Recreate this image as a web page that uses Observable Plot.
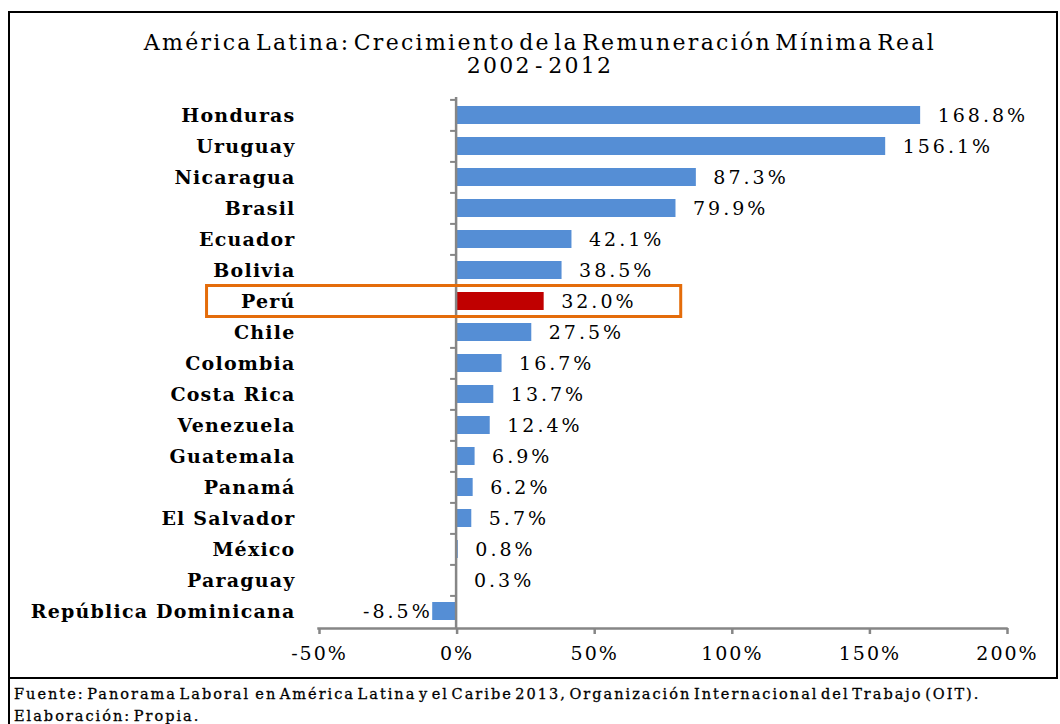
<!DOCTYPE html>
<html>
<head>
<meta charset="utf-8">
<script src="https://cdn.jsdelivr.net/npm/d3@7"></script>
<script src="https://cdn.jsdelivr.net/npm/@observablehq/plot@0.6"></script>
<style>
  body { margin: 0; background: #fff; width: 1060px; height: 724px; overflow: hidden; position: relative; font-family: "DejaVu Serif", serif; }
  #frame { position: absolute; left: 8px; top: 11px; width: 1046px; height: 664px; border: 2px solid #000; }
  #footline { position: absolute; left: 8px; top: 679px; width: 2px; height: 45px; background: #000; }
  #title { position: absolute; left: 0; top: 31px; width: 1080px; text-align: center; font-size: 22px; line-height: 23px; color: #000; letter-spacing: 2.3px; word-spacing: -6px; }
  #chart { position: absolute; left: 0; top: 80px; }
  #footer { position: absolute; left: 14px; top: 683px; font-size: 14.5px; line-height: 22px; color: #000; letter-spacing: 2px; word-spacing: -4px; -webkit-text-stroke: 0.3px #000; }
  #chart g[aria-label="text"] text { letter-spacing: 3px; }
  #chart g[aria-label="x-axis tick label"] text { letter-spacing: 2px; }
  #chart g[aria-label="y-axis tick label"] text { letter-spacing: 1.2px; }
</style>
</head>
<body>
<div id="frame"></div>
<div id="footline"></div>
<div id="title">América Latina: Crecimiento de la Remuneración Mínima Real<br>2002 - 2012</div>
<div id="chart"></div>
<div id="footer">Fuente: Panorama Laboral&nbsp; en América Latina y el Caribe 2013, Organización Internacional del Trabajo (OIT).<br>Elaboración: Propia.</div>
<script>
const countries = ["Honduras","Uruguay","Nicaragua","Brasil","Ecuador","Bolivia","Perú","Chile","Colombia","Costa Rica","Venezuela","Guatemala","Panamá","El Salvador","México","Paraguay","República Dominicana"];
const values = [168.8,156.1,87.3,79.9,42.1,38.5,32.0,27.5,16.7,13.7,12.4,6.9,6.2,5.7,0.8,0.3,-8.5];
const xTicks = [-50,0,50,100,150,200];
const highlighted = "Perú";
const highlightSpan = [-90.5, 81.8];

const data = countries.map((c, i) => ({country: c, value: values[i]}));
const blue = "#558ED5", red = "#C00000", orange = "#E46C0A", grey = "#868686";
const fmt = d => d.value.toFixed(1) + "%";

const chart = Plot.plot({
  width: 1060,
  height: 596,
  marginLeft: 318,
  marginRight: 54,
  marginTop: 17,
  marginBottom: 48,
  style: {fontFamily: "DejaVu Serif, serif", fontSize: "18px", color: "#000", background: "transparent"},
  x: {domain: [-50, 200], label: null},
  y: {domain: countries, paddingInner: 0.42, paddingOuter: 0.21, label: null},
  marks: [
    Plot.barX(data, {y: "country", x: "value", fill: d => d.country === highlighted ? red : blue}),
    Plot.ruleX([0], {stroke: grey, strokeWidth: 2.5}),
    Plot.ruleY(countries, {y: d => d, x1: -2, x2: 0, stroke: grey, strokeWidth: 2, dy: -15.6}),
    Plot.frame({anchor: "bottom", stroke: grey, strokeWidth: 2.5}),
    Plot.axisX({ticks: xTicks, tickFormat: d => d + "%", tickSize: 6, tickPadding: 12, stroke: grey, strokeWidth: 2.5, fontSize: 19, fill: "#000", label: null, dx: 1}),
    Plot.axisY({tickSize: 0, tickPadding: 23, fontSize: 19, fontWeight: "bold", fill: "#000", label: null}),
    Plot.text(data, {filter: d => d.value >= 0, y: "country", x: d => Math.max(d.value, 0), text: fmt, textAnchor: "start", dx: 17, fill: "#000", fontSize: 19}),
    Plot.text(data, {filter: d => d.value < 0, y: "country", x: "value", text: fmt, textAnchor: "end", dx: 0, fill: "#000", fontSize: 19}),
    Plot.barX([highlighted], {y: d => d, x1: highlightSpan[0], x2: highlightSpan[1], fill: "none", stroke: orange, strokeWidth: 3, insetTop: -6.5, insetBottom: -6.5})
  ]
});
document.getElementById("chart").appendChild(chart);
</script>
</body>
</html>
